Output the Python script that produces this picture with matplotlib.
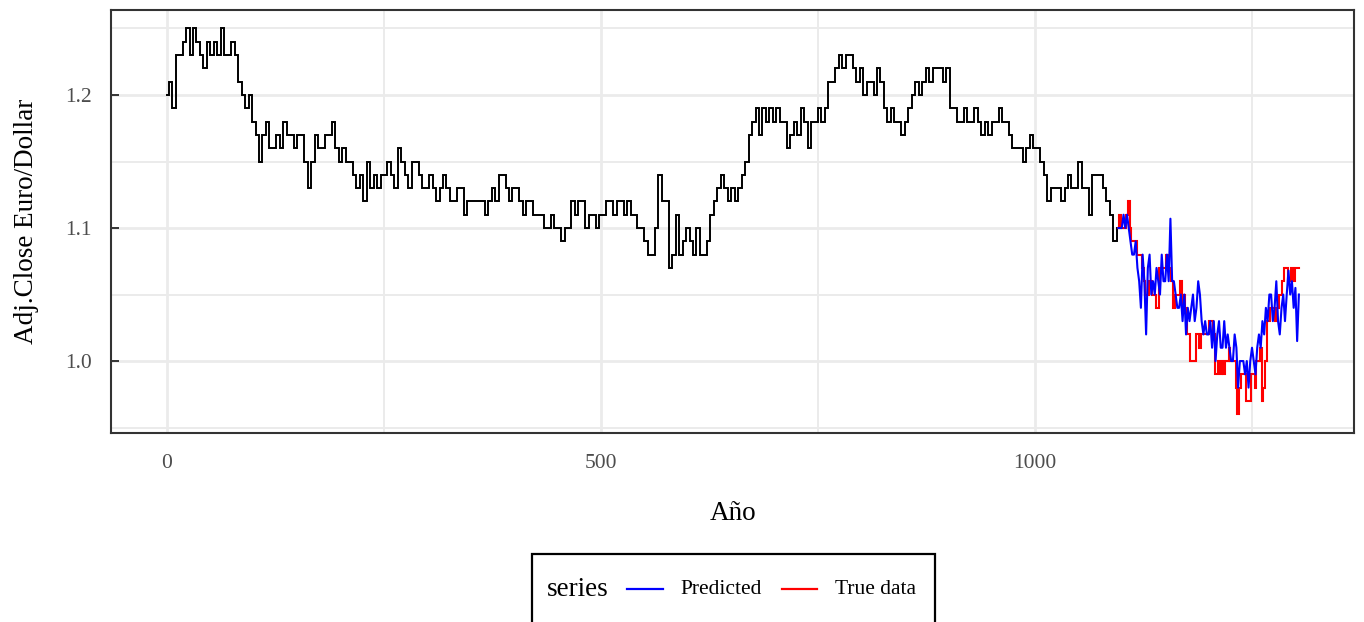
import numpy as np
import matplotlib
matplotlib.use("Agg")
import matplotlib.pyplot as plt
from matplotlib.patches import Rectangle
from matplotlib.lines import Line2D

plt.rcParams['font.family'] = ['Liberation Serif', 'DejaVu Serif']

# ---------------- data ----------------
hist_step = 4
hist_close = [
    1.20, 1.21, 1.19, 1.23, 1.23, 1.24, 1.25, 1.23, 1.25, 1.24,
    1.23, 1.22, 1.24, 1.23, 1.24, 1.23, 1.25, 1.23, 1.23, 1.24,
    1.23, 1.21, 1.20, 1.19, 1.20, 1.18, 1.17, 1.15, 1.17, 1.18,
    1.16, 1.16, 1.17, 1.16, 1.18, 1.17, 1.17, 1.16, 1.17, 1.17,
    1.15, 1.13, 1.15, 1.17, 1.16, 1.16, 1.17, 1.17, 1.18, 1.16,
    1.15, 1.16, 1.15, 1.15, 1.14, 1.13, 1.14, 1.12, 1.15, 1.13,
    1.14, 1.13, 1.14, 1.14, 1.15, 1.14, 1.13, 1.16, 1.15, 1.14,
    1.13, 1.15, 1.15, 1.14, 1.13, 1.13, 1.14, 1.13, 1.12, 1.13,
    1.14, 1.13, 1.12, 1.12, 1.13, 1.13, 1.11, 1.12, 1.12, 1.12,
    1.12, 1.12, 1.11, 1.12, 1.13, 1.12, 1.14, 1.14, 1.13, 1.12,
    1.13, 1.13, 1.12, 1.11, 1.12, 1.12, 1.11, 1.11, 1.11, 1.10,
    1.10, 1.11, 1.10, 1.10, 1.09, 1.10, 1.10, 1.12, 1.11, 1.12,
    1.12, 1.10, 1.11, 1.11, 1.10, 1.11, 1.11, 1.12, 1.12, 1.11,
    1.12, 1.12, 1.11, 1.12, 1.11, 1.11, 1.10, 1.10, 1.09, 1.08,
    1.08, 1.10, 1.14, 1.12, 1.12, 1.07, 1.08, 1.11, 1.08, 1.09,
    1.10, 1.09, 1.08, 1.10, 1.08, 1.08, 1.09, 1.11, 1.12, 1.13,
    1.14, 1.13, 1.12, 1.13, 1.12, 1.13, 1.14, 1.15, 1.17, 1.18,
    1.19, 1.17, 1.19, 1.18, 1.19, 1.18, 1.19, 1.18, 1.18, 1.16,
    1.17, 1.18, 1.17, 1.19, 1.18, 1.16, 1.18, 1.18, 1.19, 1.18,
    1.19, 1.21, 1.21, 1.22, 1.23, 1.22, 1.23, 1.23, 1.22, 1.21,
    1.22, 1.20, 1.21, 1.21, 1.20, 1.22, 1.21, 1.19, 1.18, 1.19,
    1.18, 1.18, 1.17, 1.18, 1.19, 1.20, 1.21, 1.20, 1.21, 1.22,
    1.21, 1.22, 1.22, 1.22, 1.21, 1.22, 1.19, 1.19, 1.18, 1.18,
    1.19, 1.18, 1.18, 1.19, 1.18, 1.17, 1.18, 1.17, 1.18, 1.18,
    1.19, 1.18, 1.18, 1.17, 1.16, 1.16, 1.16, 1.15, 1.16, 1.17,
    1.16, 1.16, 1.15, 1.14, 1.12, 1.13, 1.13, 1.13, 1.12, 1.13,
    1.14, 1.13, 1.13, 1.15, 1.13, 1.13, 1.11, 1.14, 1.14, 1.14,
    1.13, 1.12, 1.11, 1.09, 1.10,
]
hist_day = np.arange(len(hist_close)) * hist_step

test_start = 1096
test_step = 2
true_data = [
    1.10, 1.11, 1.10, 1.10, 1.10, 1.11, 1.12, 1.10, 1.09, 1.09,
    1.09, 1.08, 1.08, 1.08, 1.07, 1.06, 1.05, 1.05, 1.06, 1.06,
    1.05, 1.05, 1.04, 1.04, 1.07, 1.07, 1.07, 1.07, 1.08, 1.07,
    1.07, 1.06, 1.04, 1.05, 1.05, 1.05, 1.06, 1.04, 1.05, 1.04,
    1.02, 1.02, 1.00, 1.00, 1.00, 1.02, 1.02, 1.01, 1.02, 1.02,
    1.02, 1.02, 1.02, 1.03, 1.03, 1.02, 0.99, 0.99, 1.00, 0.99,
    1.00, 0.99, 1.00, 1.00, 1.01, 1.00, 1.00, 1.00, 0.98, 0.96,
    0.98, 0.99, 0.99, 0.99, 0.97, 0.97, 0.97, 0.99, 0.99, 0.98,
    1.00, 1.00, 1.01, 0.97, 0.98, 1.00, 1.03, 1.03, 1.04, 1.04,
    1.04, 1.03, 1.04, 1.05, 1.05, 1.06, 1.07, 1.07, 1.06, 1.06,
    1.07, 1.06, 1.07, 1.07, 1.07,
]
predicted = [
    1.100, 1.100, 1.100, 1.110, 1.100, 1.110, 1.100, 1.090, 1.080, 1.080,
    1.090, 1.070, 1.060, 1.040, 1.080, 1.060, 1.020, 1.070, 1.080, 1.050,
    1.060, 1.050, 1.070, 1.060, 1.050, 1.080, 1.060, 1.060, 1.080, 1.060,
    1.107, 1.060, 1.060, 1.050, 1.040, 1.040, 1.050, 1.030, 1.050, 1.020,
    1.040, 1.030, 1.040, 1.050, 1.030, 1.040, 1.060, 1.050, 1.030, 1.020,
    1.030, 1.020, 1.020, 1.030, 1.010, 1.030, 1.000, 1.020, 1.030, 1.010,
    1.010, 1.030, 1.010, 1.020, 1.010, 1.000, 1.000, 1.020, 1.010, 0.980,
    1.000, 1.000, 1.000, 0.990, 1.000, 0.980, 1.000, 1.010, 1.000, 0.990,
    1.010, 1.020, 1.010, 1.030, 1.020, 1.040, 1.030, 1.050, 1.050, 1.030,
    1.040, 1.060, 1.030, 1.020, 1.040, 1.050, 1.030, 1.050, 1.068, 1.050,
    1.060, 1.040, 1.055, 1.015, 1.050,
]
test_day = test_start + np.arange(len(true_data)) * test_step

series_labels = ["Predicted", "True data"]
series_colors = ["#0000FF", "#FF0000"]

x_major = [0, 500, 1000]
x_minor = [250, 750, 1250]
y_major = [1.0, 1.1, 1.2]
y_minor = [0.95, 1.05, 1.15, 1.25]

# ---------------- figure ----------------
W, H = 1364, 622
fig = plt.figure(figsize=(W / 100, H / 100), dpi=100)
L, R, T, B = 111, 1354, 10, 433
ax = fig.add_axes([L / W, 1 - B / H, (R - L) / W, (B - T) / H])

ax.plot(hist_day, hist_close, color="black", lw=1.4, zorder=3,
        drawstyle="steps-mid", solid_joinstyle="miter")
ax.plot(test_day, true_data, color=series_colors[1], lw=1.5, zorder=4,
        drawstyle="steps-mid", solid_joinstyle="miter")
ax.plot(test_day, predicted, color=series_colors[0], lw=1.5, zorder=4)

ax.set_xlim(-64.5, 1367.5)
ax.set_ylim(0.9459, 1.2639)

ax.set_xticks(x_major)
ax.set_xticks(x_minor, minor=True)
ax.set_yticks(y_major)
ax.set_yticks(y_minor, minor=True)
ax.set_xticklabels([str(v) for v in x_major])
ax.set_yticklabels([f"{v:.1f}" for v in y_major])

ax.grid(which="major", color="#EBEBEB", lw=2.0, zorder=0)
ax.grid(which="minor", color="#EBEBEB", lw=1.4, zorder=0)
ax.set_axisbelow(True)

ax.tick_params(which="major", direction="in", width=1.4,
               color="#333333", labelsize=15.5, labelcolor="#4D4D4D")
ax.tick_params(axis="y", which="major", length=6, pad=14)
ax.tick_params(axis="x", which="major", length=0, pad=15)
ax.tick_params(which="minor", length=0)
for s in ax.spines.values():
    s.set_color("#333333")
    s.set_linewidth(1.5)

fig.text(733 / W, 1 - 513 / H, "Año", ha="center", va="center", fontsize=19.5)
fig.text(27 / W, 1 - 221 / H, "Adj.Close Euro/Dollar", ha="center", va="center",
         rotation=90, fontsize=19.5)

# ---------------- legend ----------------
def fx(px):
    return px / W

def fy(py):
    return 1 - py / H

fig.patches.append(Rectangle((fx(532), fy(660)), fx(935) - fx(532), fy(554) - fy(660),
                             transform=fig.transFigure, fill=True, facecolor="white",
                             edgecolor="black", lw=1.6, clip_on=False))
ly = 589
fig.text(fx(547), fy(ly), "series", ha="left", va="center", fontsize=19.5)
key_x = [(627, 663), (782, 817)]
lab_x = [680, 835]
for (x0, x1), lx, lab, col in zip(key_x, lab_x, series_labels, series_colors):
    fig.lines.append(Line2D([fx(x0), fx(x1)], [fy(ly), fy(ly)], transform=fig.transFigure,
                            color=col, lw=1.6))
    fig.text(fx(lx), fy(ly), lab, ha="left", va="center", fontsize=15.5)

fig.savefig("out.png", dpi=100)
